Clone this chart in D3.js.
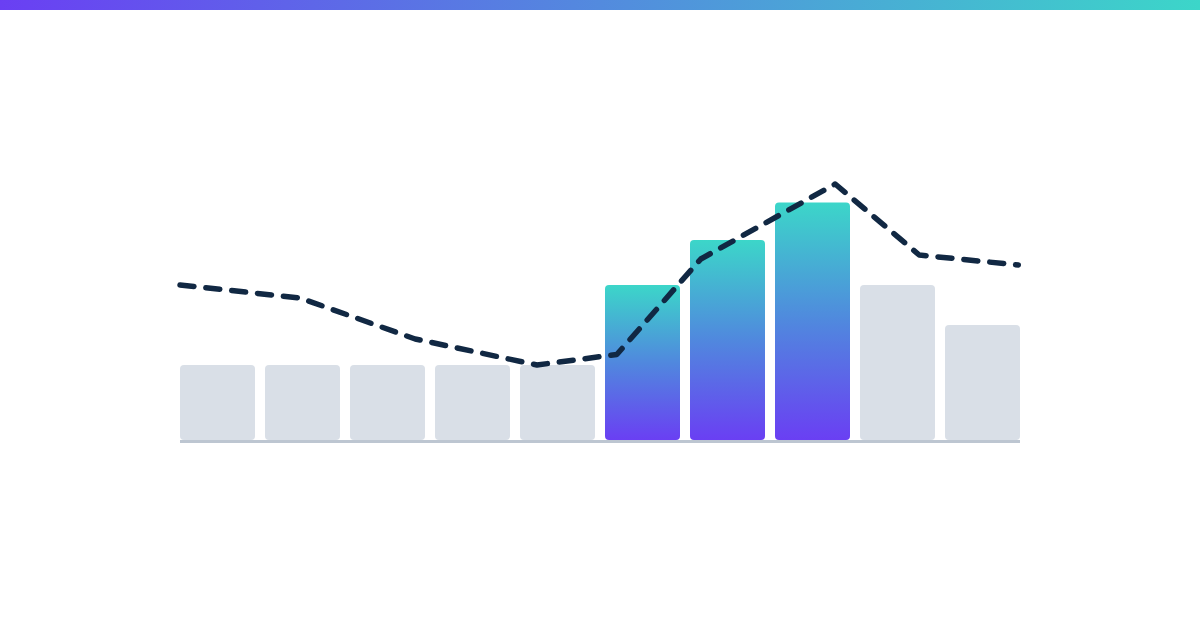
<!DOCTYPE html>
<html>
<head>
<meta charset="utf-8">
<script src="https://cdn.jsdelivr.net/npm/d3@7"></script>
<style>
  html, body { margin: 0; padding: 0; background: #fff; }
  svg { display: block; }
</style>
</head>
<body>
<svg id="chart" width="1200" height="630"></svg>
<script>
// bar data
const categories = ['1', '2', '3', '4', '5', '6', '7', '8', '9', '10']
const barValues = [30, 30, 30, 30, 30, 62, 80, 95, 62, 46]
const highlighted = [false, false, false, false, false, true, true, true, false, false]

// dashed trend line (x as % of plot width)
const lineX = [0, 14.3, 28, 42.5, 52, 62, 78, 88, 99.8]
const lineValues = [62, 56.8, 40.4, 30, 34.2, 72.4, 102.4, 74, 70]

const width = 1200
const height = 630
const margin = { left: 180, right: 180, top: 190, bottom: 190 }

const svg = d3.select('#chart')
const defs = svg.append('defs')

// top strip gradient
const topGrad = defs.append('linearGradient')
  .attr('id', 'topGrad')
  .attr('x1', '0%').attr('x2', '100%')
  .attr('y1', '0%').attr('y2', '0%')
topGrad.append('stop').attr('offset', '0%').attr('stop-color', '#6a3ff3')
topGrad.append('stop').attr('offset', '100%').attr('stop-color', '#3cd6c9')

// bar gradient (bottom purple -> top teal)
const barGrad = defs.append('linearGradient')
  .attr('id', 'barGrad')
  .attr('x1', '0%').attr('x2', '0%')
  .attr('y1', '100%').attr('y2', '0%')
barGrad.append('stop').attr('offset', '0%').attr('stop-color', '#6a3ff3')
barGrad.append('stop').attr('offset', '50%').attr('stop-color', '#5088de')
barGrad.append('stop').attr('offset', '100%').attr('stop-color', '#3cd6c9')

svg.append('rect')
  .attr('x', 0).attr('y', 0)
  .attr('width', width).attr('height', 10)
  .style('fill', 'url(#topGrad)')

const x = d3.scaleBand()
  .domain(categories)
  .range([margin.left, width - margin.right])
  .paddingInner(10 / 85)
  .paddingOuter(0)

const y = d3.scaleLinear()
  .domain([0, 100])
  .range([height - margin.bottom, margin.top])

const xLine = d3.scaleLinear()
  .domain([0, 100])
  .range([margin.left, width - margin.right])

// bars
svg.append('g')
  .selectAll('rect')
  .data(barValues)
  .join('rect')
  .attr('x', (d, i) => x(categories[i]))
  .attr('y', d => y(d))
  .attr('width', x.bandwidth())
  .attr('height', d => y(0) - y(d))
  .attr('rx', 4)
  .style('fill', (d, i) => highlighted[i] ? 'url(#barGrad)' : '#d9dfe7')

// baseline
svg.append('rect')
  .attr('x', margin.left)
  .attr('y', y(0))
  .attr('width', width - margin.left - margin.right)
  .attr('height', 3)
  .style('fill', '#bdc6d1')

// dashed line
const line = d3.line()
  .x((d, i) => xLine(lineX[i]))
  .y(d => y(d))

svg.append('path')
  .datum(lineValues)
  .attr('d', line)
  .style('fill', 'none')
  .style('stroke', '#112843')
  .style('stroke-width', 5.5)
  .style('stroke-linecap', 'round')
  .style('stroke-linejoin', 'round')
  .style('stroke-dasharray', '14 12')
</script>
</body>
</html>
